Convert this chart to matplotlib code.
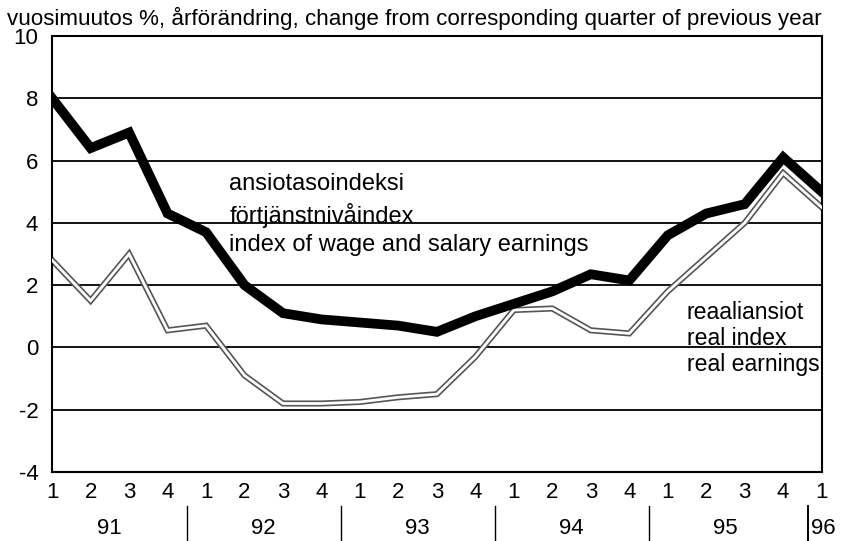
import numpy as np
import matplotlib.pyplot as plt

plt.rcParams['font.family'] = ['Liberation Sans', 'DejaVu Sans']
plt.rcParams['axes.unicode_minus'] = False

quarters = ['1', '2', '3', '4'] * 5 + ['1']
years = ['91', '92', '93', '94', '95']
nominal = [8.0, 6.4, 6.9, 4.3, 3.7, 2.0, 1.1, 0.9, 0.8, 0.7, 0.5,
           1.0, 1.4, 1.8, 2.35, 2.15, 3.6, 4.3, 4.6, 6.1, 5.0]
real = [2.8, 1.5, 3.0, 0.55, 0.7, -0.9, -1.8, -1.8, -1.75, -1.6, -1.5,
        -0.3, 1.2, 1.25, 0.55, 0.45, 1.8, 2.9, 4.0, 5.6, 4.5]

x = np.arange(len(quarters))

fig = plt.figure(figsize=(8.41, 5.41), dpi=100)
ax = fig.add_axes([0.062, 0.1275, 0.915, 0.806])

for y in range(-2, 10, 2):
    ax.axhline(y, color='black', lw=1.3, zorder=1)

# real earnings drawn as a double line
ax.plot(x, real, color='#555555', lw=4.4, solid_joinstyle='miter', zorder=2)
ax.plot(x, real, color='white', lw=2.0, solid_joinstyle='miter', zorder=3)
ax.plot(x, nominal, color='black', lw=7, solid_joinstyle='miter', zorder=4)

ax.set_xlim(0, len(x) - 1)
ax.set_ylim(-4, 10)
ax.set_yticks(range(-4, 11, 2))
ax.set_xticks(x)
ax.set_xticklabels(quarters)
ax.tick_params(length=0, labelsize=16)
ax.tick_params(axis='y', pad=10)
ax.tick_params(axis='x', pad=7)
for s in ax.spines.values():
    s.set_linewidth(1.5)

fig.text(0.008, 0.966, 'vuosimuutos %, årförändring, change from corresponding quarter of previous year',
         fontsize=16.1, va='center', ha='left')

ax.text(4.6, 5.6, 'ansiotasoindeksi\nförtjänstnivåindex\nindex of wage and salary earnings',
        fontsize=17, va='top', ha='left', linespacing=1.38)
ax.text(16.5, 1.5, 'reaaliansiot\nreal index\nreal earnings',
        fontsize=16.6, va='top', ha='left', linespacing=1.18)

trans = ax.get_xaxis_transform()
for i, yr in enumerate(years):
    ax.text(4 * i + 1.5, -0.13, yr, transform=trans, fontsize=16, ha='center', va='center')
for sep in [3.5, 7.5, 11.5, 15.5]:
    ax.plot([sep, sep], [-0.078, -0.158], transform=trans, color='black', lw=1, clip_on=False)
ax.plot([19.65, 19.65], [-0.078, -0.16], transform=trans, color='black', lw=1.4, clip_on=False)
ax.text(19.72, -0.13, '96', transform=trans, fontsize=16, ha='left', va='center')

fig.savefig('out.png', dpi=100)
